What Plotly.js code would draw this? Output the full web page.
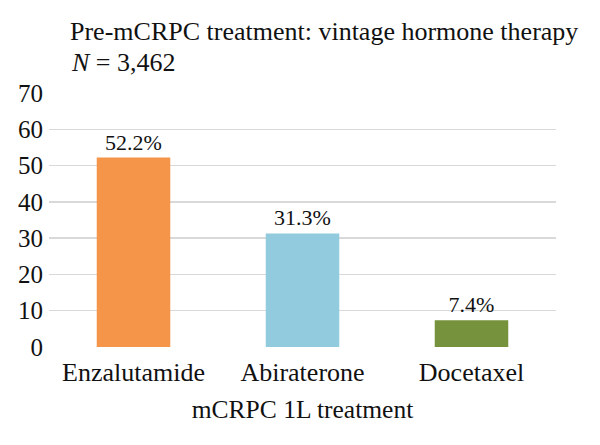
<!DOCTYPE html>
<html>
<head>
<meta charset="utf-8">
<script src="https://cdn.plot.ly/plotly-3.0.1.min.js"></script>
<style>
  html, body { margin: 0; padding: 0; background: #fff; }
  #chart { width: 600px; height: 445px; }
</style>
</head>
<body>
<div id="chart"></div>
<script>
// mCRPC first-line treatment shares after vintage hormone therapy
const categories = ['Enzalutamide', 'Abiraterone', 'Docetaxel'];
const shares = [52.2, 31.3, 7.4];
const labels = ['52.2%', '31.3%', '7.4%'];
const barColors = ['#F4954A', '#92CBDD', '#76923C'];
const yTicks = [0, 10, 20, 30, 40, 50, 60, 70];

const serif = 'Liberation Serif, Times New Roman, serif';

const trace = {
  type: 'bar',
  x: categories,
  y: shares,
  text: labels,
  textposition: 'outside',
  textfont: { family: serif, size: 22, color: '#111' },
  cliponaxis: false,
  marker: { color: barColors, line: { width: 0 } },
  hoverinfo: 'skip'
};

const layout = {
  width: 600,
  height: 445,
  margin: { l: 49, r: 44, t: 93, b: 98 },
  paper_bgcolor: '#fff',
  plot_bgcolor: '#fff',
  bargap: 0.565,
  showlegend: false,
  font: { family: serif, color: '#111' },
  title: {
    text: 'Pre-mCRPC treatment: vintage hormone therapy',
    font: { family: serif, size: 26, color: '#111' },
    x: 70 / 600,
    xanchor: 'left',
    xref: 'container',
    y: 1,
    yanchor: 'bottom',
    yref: 'paper',
    pad: { b: 53 }
  },
  // sample size line under the title
  annotations: [{
    text: '<i>N</i> = 3,462',
    xref: 'paper',
    yref: 'paper',
    x: (70 - 49) / 507,
    y: 1 + (93 - 62) / 254,
    xanchor: 'left',
    yanchor: 'middle',
    showarrow: false,
    borderpad: 0,
    font: { family: serif, size: 26, color: '#111' }
  }],
  xaxis: {
    type: 'category',
    tickfont: { family: serif, size: 26, color: '#111' },
    showgrid: false,
    zeroline: false,
    showline: false,
    ticks: '',
    ticklabelstandoff: 7,
    title: {
      text: 'mCRPC 1L treatment',
      font: { family: serif, size: 25.5, color: '#111' },
      standoff: 14
    }
  },
  yaxis: {
    range: [0, 70],
    tickvals: yTicks,
    ticktext: yTicks.map(String),
    tickfont: { family: serif, size: 25, color: '#111' },
    showgrid: true,
    gridcolor: '#d9d9d9',
    gridwidth: 1.5,
    zeroline: false,
    showline: false,
    ticks: '',
    ticklabelstandoff: 5
  }
};

Plotly.newPlot('chart', [trace], layout, { displayModeBar: false, staticPlot: true });
</script>
</body>
</html>
